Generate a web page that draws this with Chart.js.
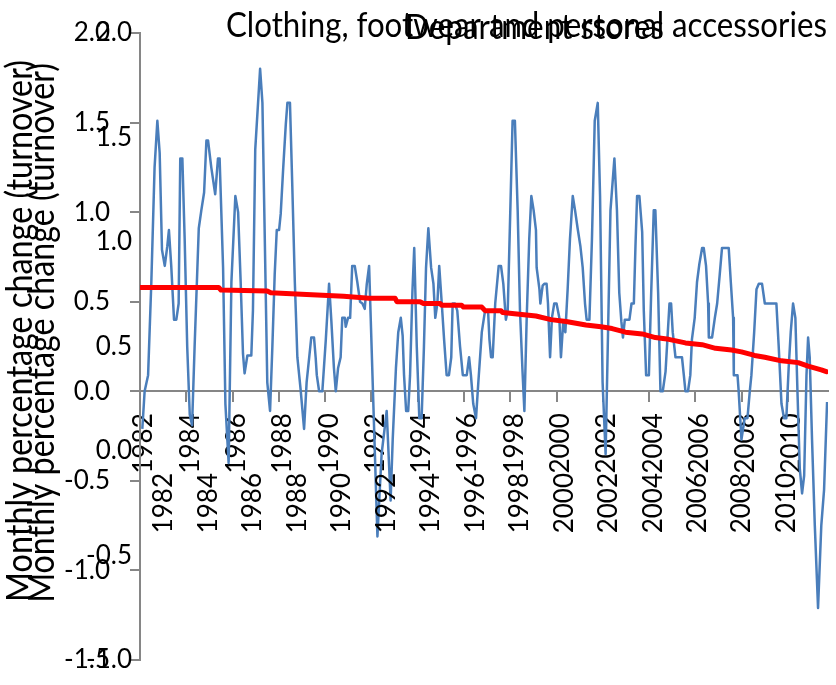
<!DOCTYPE html>
<html><head><meta charset="utf-8">
<script src="https://cdn.jsdelivr.net/npm/chart.js@4.4.1/dist/chart.umd.min.js"></script>
<style>
html,body{margin:0;padding:0;background:#fff;overflow:hidden;}
#wrap{position:relative;width:836px;height:685px;background:#fff;}
canvas{position:absolute;left:0;top:0;}
</style></head><body>
<div id="wrap"><canvas id="chartA" width="836" height="685"></canvas><canvas id="chartB" width="836" height="685"></canvas></div>
<script>
// ---- data ----
const titleA = 'Clothing, footwear and personal accessories';
const titleB = 'Department stores';
const yAxisTitle = 'Monthly percentage change (turnover)';
const yearTicks = [1982,1984,1986,1988,1990,1992,1994,1996,1998,2000,2002,2004,2006,2008,2010];
const clothingAxisTicks = [-1.5,-1.0,-0.5,0,0.5,1.0,1.5,2.0];
const deptAxisTicks = [-1.0,-0.5,0,0.5,1.0,1.5,2.0];

const turnoverYears = [
1982.10,1982.20,1982.35,1982.49,1982.63,1982.75,1982.85,1982.95,1983.07,1983.18,1983.25,1983.35,1983.47,1983.57,1983.67,1983.74,1983.83,1983.93,
1984.04,1984.15,1984.25,1984.36,1984.54,1984.65,1984.77,1984.87,1984.94,1985.08,1985.25,1985.37,1985.44,1985.59,1985.69,1985.83,1985.95,
1986.12,1986.24,1986.35,1986.45,1986.52,1986.64,1986.81,1986.88,1986.98,1987.19,1987.29,1987.50,1987.62,1987.72,1987.82,1987.91,
1988.01,1988.08,1988.19,1988.30,1988.37,1988.48,1988.58,1988.69,1988.80,1988.94,1989.09,1989.20,1989.40,1989.52,1989.59,1989.64,1989.74,1989.88,
1990.03,1990.17,1990.27,1990.38,1990.46,1990.56,1990.67,1990.74,1990.85,1990.89,1990.99,1991.08,1991.17,1991.28,1991.39,1991.51,1991.61,1991.71,1991.80,1991.90,
1992.26,1992.44,1992.66,1992.83,1992.92,1993.06,1993.16,1993.27,1993.35,1993.41,1993.50,1993.59,1993.67,1993.77,1993.85,1993.96,
1994.07,1994.17,1994.27,1994.36,1994.46,1994.58,1994.68,1994.76,1994.85,1994.93,1995.04,1995.14,1995.25,1995.35,1995.45,1995.51,1995.61,1995.71,1995.83,1995.95,
1996.12,1996.22,1996.30,1996.40,1996.52,1996.62,1996.77,1996.91,1997.04,1997.10,1997.17,1997.24,1997.35,1997.50,1997.60,1997.70,1997.81,1997.89,1997.99,
1998.10,1998.20,1998.32,1998.42,1998.53,1998.61,1998.71,1998.82,1998.91,1999.01,1999.11,1999.14,1999.26,1999.30,1999.40,1999.47,1999.57,1999.63,1999.72,1999.80,1999.90,
2000.00,2000.12,2000.19,2000.29,2000.38,2000.48,2000.58,2000.70,2000.80,2000.91,2001.03,2001.13,2001.23,2001.30,2001.42,2001.53,2001.65,2001.78,2001.88,2001.99,
2002.12,2002.33,2002.50,2002.61,2002.71,2002.80,2002.87,2002.95,2003.15,2003.24,2003.34,2003.41,2003.48,2003.58,2003.70,2003.77,2003.87,2003.99,
2004.09,2004.20,2004.27,2004.39,2004.49,2004.59,2004.71,2004.79,2004.88,2004.95,2005.02,2005.14,2005.42,2005.50,2005.57,2005.68,2005.78,2005.85,2005.97,
2006.07,2006.17,2006.29,2006.36,2006.46,2006.55,2006.58,2006.72,2006.84,2006.94,2007.05,2007.15,2007.44,2007.53,2007.63,2007.66,2007.82,2007.87,2007.99,
2008.13,2008.25,2008.35,2008.42,2008.54,2008.64,2008.74,2008.88,2009.00,2009.50,2009.60,2009.72,2009.83,2009.93,
2010.03,2010.12,2010.22,2010.32,2010.41,2010.51,2010.61,2010.70,2010.80,2010.87,2010.94,2011.04,2011.16,2011.30,2011.44,2011.56,2011.69
];
const turnoverValues = [
-0.21,0.00,0.09,0.61,1.25,1.51,1.33,0.79,0.70,0.81,0.90,0.70,0.40,0.40,0.49,1.30,1.30,0.85,
0.25,-0.13,-0.19,0.25,0.91,1.01,1.11,1.40,1.40,1.25,1.10,1.30,1.30,0.69,-0.07,-0.40,0.61,
1.09,1.00,0.61,0.21,0.10,0.20,0.20,0.45,1.35,1.80,1.61,0.05,-0.11,0.25,0.65,0.90,
0.90,0.99,1.25,1.49,1.61,1.61,1.15,0.61,0.19,0.01,-0.21,0.05,0.30,0.30,0.19,0.09,0.00,0.00,
0.29,0.60,0.39,0.13,0.00,0.13,0.19,0.41,0.41,0.36,0.41,0.41,0.70,0.70,0.61,0.50,0.49,0.46,0.60,0.70,
-0.81,-0.35,-0.11,-0.61,-0.27,0.13,0.33,0.41,0.31,0.09,-0.11,-0.11,0.09,0.55,0.80,0.25,
-0.15,-0.15,0.25,0.69,0.91,0.69,0.60,0.41,0.49,0.70,0.49,0.29,0.09,0.09,0.19,0.49,0.49,0.45,0.25,0.09,
0.09,0.19,0.09,-0.07,-0.15,0.05,0.33,0.45,0.45,0.29,0.19,0.19,0.49,0.70,0.70,0.60,0.40,0.45,0.95,
1.51,1.51,1.01,0.45,0.11,-0.11,0.41,0.85,1.09,1.01,0.90,0.69,0.57,0.49,0.59,0.60,0.60,0.49,0.19,0.41,0.49,
0.49,0.41,0.19,0.39,0.33,0.57,0.85,1.09,1.01,0.91,0.81,0.69,0.49,0.40,0.40,0.85,1.51,1.61,1.09,0.05,
-0.35,1.01,1.30,1.01,0.55,0.39,0.30,0.40,0.40,0.49,0.49,0.81,1.09,1.09,0.89,0.45,0.09,0.09,
0.55,1.01,1.01,0.55,0.00,0.00,0.11,0.29,0.49,0.49,0.33,0.19,0.19,0.09,0.00,0.00,0.09,0.29,0.41,
0.61,0.71,0.80,0.80,0.70,0.49,0.30,0.30,0.41,0.49,0.65,0.80,0.80,0.61,0.41,0.09,0.09,0.00,-0.27,
-0.15,-0.15,0.00,0.09,0.33,0.57,0.60,0.60,0.49,0.49,0.25,-0.07,-0.15,-0.15,
0.13,0.33,0.49,0.41,0.00,-0.43,-0.57,-0.47,0.09,0.30,0.19,-0.27,-0.75,-1.21,-0.75,-0.55,-0.06
];

const trendYears = [1982.00,1985.40,1985.50,1987.50,1987.65,1989.20,1990.80,1991.90,1993.02,1993.10,1994.10,1994.25,1994.97,1995.04,1995.90,1995.98,1996.77,1996.91,
1997.60,1997.67,1998.39,1999.11,1999.76,2000.41,2001.27,2001.92,2002.40,2002.98,2003.70,2004.27,2004.85,2005.57,2006.29,2006.87,
2007.56,2007.99,2008.56,2009.00,2009.72,2010.44,2010.87,2011.44,2011.66];
const trendValues = [0.58,0.58,0.565,0.56,0.55,0.54,0.53,0.52,0.52,0.50,0.50,0.49,0.49,0.48,0.48,0.47,0.47,0.45,
0.45,0.44,0.43,0.42,0.40,0.39,0.37,0.36,0.35,0.33,0.32,0.30,0.29,0.27,0.26,0.24,
0.23,0.22,0.20,0.19,0.17,0.16,0.14,0.12,0.11];

// ---- helpers ----
const FONT = 'Lato, "Open Sans", sans-serif';
const AXIS_GREY = '#868686';
const TICK_SIZE = 26;
const SQUEEZE = 0.9; // horizontal compression to mimic a narrow font for titles

function measureAt100(text) {
  const c = document.createElement('canvas').getContext('2d');
  c.font = '100px ' + FONT;
  return c.measureText(text).width;
}

const overlayText = {
  id: 'overlayText',
  afterDraw(chart, args, o) {
    const ctx = chart.ctx;
    ctx.save();
    ctx.fillStyle = '#000';
    ctx.textBaseline = 'alphabetic';
    let s = 100 * o.titleWidth / (measureAt100(o.title) * SQUEEZE);
    ctx.save();
    ctx.font = s + 'px ' + FONT;
    ctx.textAlign = 'left';
    ctx.translate(o.titleLeft, o.titleBaseline);
    ctx.scale(SQUEEZE, 1);
    ctx.fillText(o.title, 0, 0);
    ctx.restore();
    s = 100 * o.yTitleWidth / (measureAt100(o.yTitle) * SQUEEZE);
    ctx.font = s + 'px ' + FONT;
    ctx.translate(o.yTitleBaselineX, o.yTitleCenterY);
    ctx.rotate(-Math.PI / 2);
    ctx.scale(SQUEEZE, 1);
    ctx.textAlign = 'center';
    ctx.fillText(o.yTitle, 0, 0);
    ctx.restore();
  }
};

function fixYAxis(width) {
  return s => { s.width = width; s.paddingTop = 0; s.paddingBottom = 0; };
}

function build() {
  new Chart(document.getElementById('chartA'), {
    type: 'line',
    data: {
      datasets: [
        { label: 'Trend', data: trendYears.map((x, i) => ({ x, y: trendValues[i] })),
          borderColor: '#FF0000', borderWidth: 5, pointRadius: 0, tension: 0, fill: false,
          borderJoinStyle: 'round', borderCapStyle: 'round' },
        { label: titleA, data: turnoverYears.map((x, i) => ({ x, y: turnoverValues[i] })),
          borderColor: '#4A7EBB', borderWidth: 2.5, pointRadius: 0, tension: 0, fill: false,
          borderJoinStyle: 'round' }
      ]
    },
    options: {
      responsive: false, animation: false, events: [],
      layout: { padding: { left: 0, right: 8, top: 33, bottom: 25 } },
      plugins: {
        legend: { display: false }, title: { display: false }, tooltip: { enabled: false },
        overlayText: { title: titleA, titleLeft: 226, titleWidth: 601, titleBaseline: 37,
          yTitle: yAxisTitle, yTitleWidth: 542, yTitleBaselineX: 32, yTitleCenterY: 331 }
      },
      scales: {
        x: {
          type: 'linear', min: 1982, max: 2011.73, position: { y: 0 },
          afterBuildTicks: s => { s.ticks = yearTicks.map(v => ({ value: v })); },
          ticks: { autoSkip: false, minRotation: 90, maxRotation: 90, padding: 12, labelOffset: 4,
            color: '#000', font: { family: FONT, size: TICK_SIZE }, callback: v => String(v) },
          grid: { display: true, drawOnChartArea: false, drawTicks: true, tickLength: 10, color: AXIS_GREY, lineWidth: 2 },
          border: { display: true, color: AXIS_GREY, width: 2 }
        },
        y: {
          type: 'linear', min: -1.5, max: 2,
          afterBuildTicks: s => { s.ticks = clothingAxisTicks.map(v => ({ value: v })); },
          afterFit: fixYAxis(140),
          ticks: { padding: 20, color: '#000', font: { family: FONT, size: TICK_SIZE }, callback: v => Number(v).toFixed(1) },
          grid: { display: true, drawOnChartArea: false, drawTicks: true, tickLength: 10, color: AXIS_GREY, lineWidth: 2 },
          border: { display: true, color: AXIS_GREY, width: 2 }
        }
      }
    },
    plugins: [overlayText]
  });

  new Chart(document.getElementById('chartB'), {
    type: 'line',
    data: { datasets: [] },
    options: {
      responsive: false, animation: false, events: [],
      layout: { padding: { left: 0, right: 8, top: 33, bottom: 25 } },
      plugins: {
        legend: { display: false }, title: { display: false }, tooltip: { enabled: false },
        overlayText: { title: titleB, titleLeft: 405, titleWidth: 259, titleBaseline: 39,
          yTitle: yAxisTitle, yTitleWidth: 540, yTitleBaselineX: 54, yTitleCenterY: 333 }
      },
      scales: {
        x: {
          type: 'linear', min: 1982, max: 2010.87, position: { y: 0 },
          afterBuildTicks: s => { s.ticks = yearTicks.map(v => ({ value: v })); },
          ticks: { autoSkip: false, minRotation: 90, maxRotation: 90, padding: 22, labelOffset: 4,
            color: '#000', font: { family: FONT, size: TICK_SIZE }, callback: v => String(v) },
          grid: { display: false, drawOnChartArea: false, drawTicks: false },
          border: { display: false }
        },
        y: {
          type: 'linear', min: -1, max: 2,
          afterBuildTicks: s => { s.ticks = deptAxisTicks.map(v => ({ value: v })); },
          afterFit: fixYAxis(160),
          ticks: { padding: 28, color: '#000', font: { family: FONT, size: TICK_SIZE }, callback: v => Number(v).toFixed(1) },
          grid: { display: false, drawOnChartArea: false, drawTicks: false },
          border: { display: false }
        }
      }
    },
    plugins: [overlayText]
  });
}

const ready = (document.fonts && document.fonts.load)
  ? Promise.race([Promise.all([document.fonts.load('26px Lato'), document.fonts.load('30px Lato')]), new Promise(r => setTimeout(r, 800))])
  : Promise.resolve();
ready.then(build, build);
</script>
</body></html>
